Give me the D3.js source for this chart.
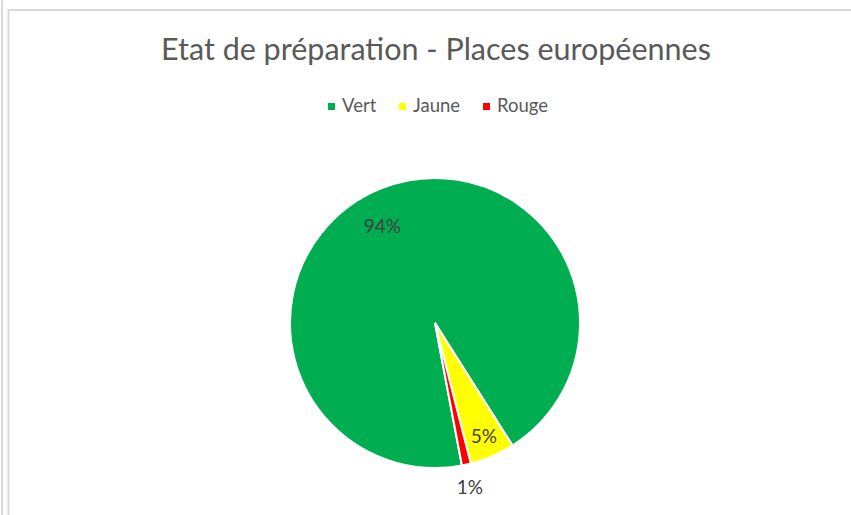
<!DOCTYPE html>
<html lang="fr">
<head>
    <meta charset="UTF-8">
    <title>Etat de préparation - Places européennes</title>
    <script src="https://d3js.org/d3.v7.min.js"></script>
    <style>
        body { margin: 0; background: #fff; }
        text { font-family: Lato, "Open Sans", sans-serif; }
    </style>
</head>
<body>
    <svg width="851" height="515"></svg>

    <script>
        // Data
        const title = "Etat de préparation - Places européennes";
        const categories = ["Vert", "Jaune", "Rouge"];
        const values = [94, 5, 1];
        const colors = ["#00ad50", "#ffff00", "#ff0000"];

        // where each label sits (fraction of radius) and a small angular nudge
        const labelRadius = [0.76, 0.85, 1.16];
        const labelNudge = [-7, 0, 0.5];

        const svg = d3.select('svg');
        const width = +svg.attr('width');
        const height = +svg.attr('height');

        // frame lines like the screenshot
        svg.append('line').attr('x1', 2).attr('x2', 2).attr('y1', 0).attr('y2', height)
            .attr('stroke', '#d9d9d9').attr('stroke-width', 2);
        svg.append('path').attr('d', `M8.5,${height} V10 H${width}`)
            .attr('fill', 'none').attr('stroke', '#d9d9d9').attr('stroke-width', 2);

        const cx = 435, cy = 323, radius = 145;

        // title
        svg.append('text')
            .attr('x', 436).attr('y', 60)
            .attr('text-anchor', 'middle')
            .attr('font-size', 30.5)
            .attr('fill', '#595959')
            .text(title);

        // legend
        const legend = svg.append('g').attr('transform', 'translate(328,112)');
        const legendX = [0, 71, 155];
        categories.forEach((c, i) => {
            const g = legend.append('g').attr('transform', `translate(${legendX[i]},0)`);
            g.append('rect').attr('x', 0).attr('y', -9).attr('width', 7).attr('height', 7)
                .attr('fill', colors[i]);
            g.append('text').attr('x', 14).attr('y', 0)
                .attr('font-size', 18.5).attr('fill', '#595959').text(c);
        });

        // pie, Excel-style with first slice angle rotated
        const startDeg = 169.3;
        const pie = d3.pie()
            .sort(null)
            .startAngle(startDeg * Math.PI / 180)
            .endAngle((startDeg + 360) * Math.PI / 180);
        const arcs = pie(values);
        const arc = d3.arc().innerRadius(0).outerRadius(radius);

        const g = svg.append('g').attr('transform', `translate(${cx},${cy})`);
        g.selectAll('path')
            .data(arcs)
            .enter().append('path')
            .attr('d', arc)
            .attr('fill', (d, i) => colors[i])
            .attr('stroke', '#fff')
            .attr('stroke-width', 2)
            .attr('stroke-linejoin', 'miter');

        const total = d3.sum(values);
        g.selectAll('text.lbl')
            .data(arcs)
            .enter().append('text')
            .attr('class', 'lbl')
            .attr('transform', (d, i) => {
                const a = (d.startAngle + d.endAngle) / 2 + labelNudge[i] * Math.PI / 180;
                const r = radius * labelRadius[i];
                return `translate(${r * Math.sin(a)},${-r * Math.cos(a)})`;
            })
            .attr('text-anchor', 'middle')
            .attr('dy', '0.35em')
            .attr('font-size', 19)
            .attr('fill', '#404040')
            .text(d => Math.round(d.value / total * 100) + '%');
    </script>
</body>
</html>
